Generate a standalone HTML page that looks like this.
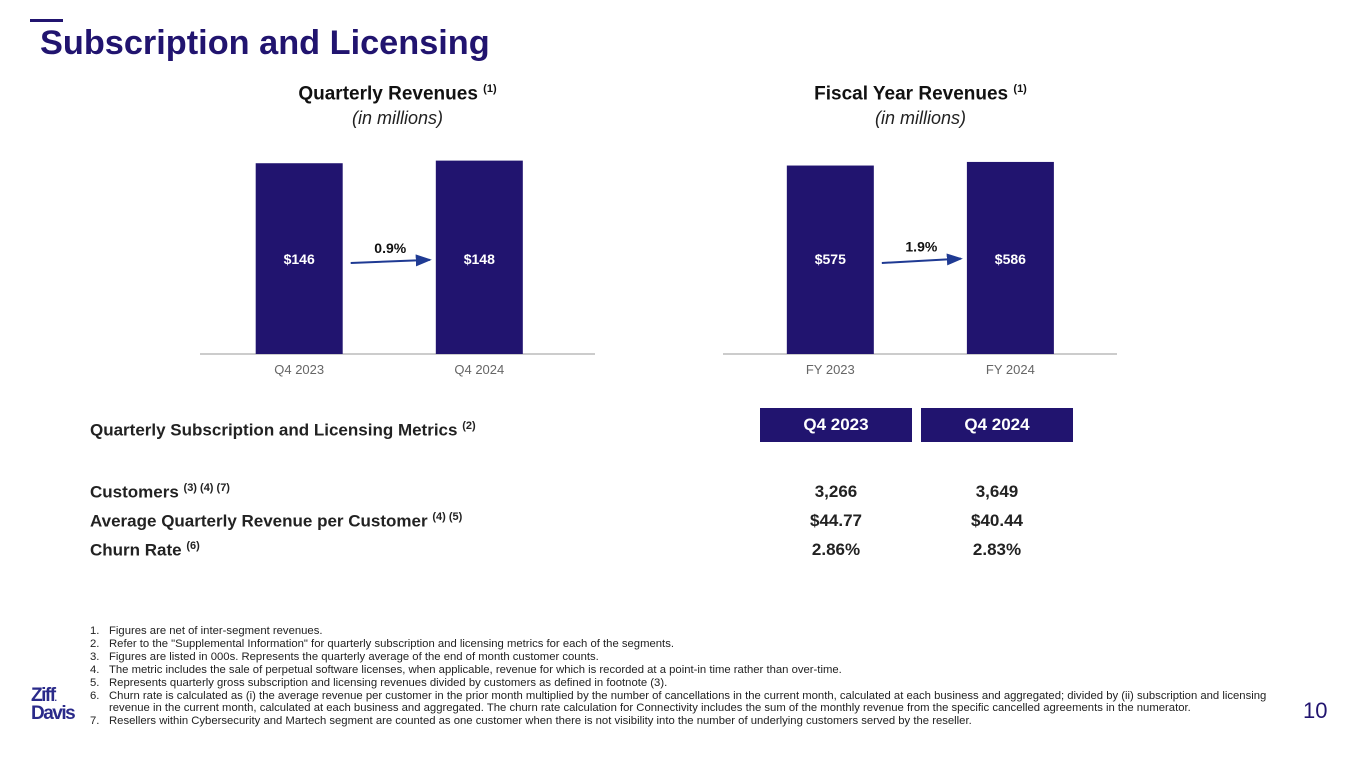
<!DOCTYPE html>
<html><head><meta charset="utf-8"><style>
body{margin:0;width:1365px;height:770px;background:#fff;position:relative;overflow:hidden;font-family:"Liberation Sans",Arial,sans-serif;}
.a{position:absolute;white-space:nowrap;}
.hdr{position:absolute;background:#21146f;color:#fff;font-weight:bold;font-size:17px;text-align:center;line-height:34px;}
.row{position:absolute;font-weight:bold;font-size:17px;color:#222;}
.fn{position:absolute;left:90px;font-size:11.3px;color:#222;line-height:12.9px;}
.fn div{position:relative;padding-left:19px;}
.fn span{position:absolute;left:0;}
sup{font-size:11px;}
</style></head><body>
<div class="a" style="left:30px;top:19px;width:33px;height:3px;background:#21146f"></div>
<div class="a" style="left:40px;top:24px;font-size:34.3px;font-weight:bold;color:#21146f">Subscription and Licensing</div>
<div class="a" style="left:200px;width:395px;top:83px;text-align:center;font-size:19px;font-weight:bold;color:#111">Quarterly Revenues <sup>(1)</sup></div>
<div class="a" style="left:200px;width:395px;top:108px;text-align:center;font-size:18px;font-style:italic;color:#222">(in millions)</div>
<div class="a" style="left:723px;width:395px;top:83px;text-align:center;font-size:19px;font-weight:bold;color:#111">Fiscal Year Revenues <sup>(1)</sup></div>
<div class="a" style="left:723px;width:395px;top:108px;text-align:center;font-size:18px;font-style:italic;color:#222">(in millions)</div>
<svg id="charts" class="a" style="left:0;top:0" width="1365" height="400">
<defs><marker id="ah" markerWidth="8" markerHeight="6" refX="7" refY="3" orient="auto"><path d="M0,0L8,3L0,6z" fill="#1f3a93"/></marker></defs>
</svg>
<div class="hdr" style="left:760px;top:408px;width:152px;height:34px">Q4 2023</div>
<div class="hdr" style="left:921px;top:408px;width:152px;height:34px">Q4 2024</div>
<div class="row" style="left:90px;top:420px">Quarterly Subscription and Licensing Metrics <sup>(2)</sup></div>
<div class="row" style="left:90px;top:482px">Customers <sup>(3) (4) (7)</sup></div>
<div class="row" style="left:90px;top:511px">Average Quarterly Revenue per Customer <sup>(4) (5)</sup></div>
<div class="row" style="left:90px;top:540px">Churn Rate <sup>(6)</sup></div>
<div class="row" style="left:760px;width:152px;text-align:center;top:482px">3,266</div>
<div class="row" style="left:921px;width:152px;text-align:center;top:482px">3,649</div>
<div class="row" style="left:760px;width:152px;text-align:center;top:511px">$44.77</div>
<div class="row" style="left:921px;width:152px;text-align:center;top:511px">$40.44</div>
<div class="row" style="left:760px;width:152px;text-align:center;top:540px">2.86%</div>
<div class="row" style="left:921px;width:152px;text-align:center;top:540px">2.83%</div>
<div class="fn" style="top:625px;width:1220px">
<div><span>1.</span>Figures are net of inter-segment revenues.</div>
<div><span>2.</span>Refer to the "Supplemental Information" for quarterly subscription and licensing metrics for each of the segments.</div>
<div><span>3.</span>Figures are listed in 000s. Represents the quarterly average of the end of month customer counts.</div>
<div><span>4.</span>The metric includes the sale of perpetual software licenses, when applicable, revenue for which is recorded at a point-in time rather than over-time.</div>
<div><span>5.</span>Represents quarterly gross subscription and licensing revenues divided by customers as defined in footnote (3).</div>
<div><span>6.</span>Churn rate is calculated as (i) the average revenue per customer in the prior month multiplied by the number of cancellations in the current month, calculated at each business and aggregated; divided by (ii) subscription and licensing<br>revenue in the current month, calculated at each business and aggregated. The churn rate calculation for Connectivity includes the sum of the monthly revenue from the specific cancelled agreements in the numerator.</div>
<div><span>7.</span>Resellers within Cybersecurity and Martech segment are counted as one customer when there is not visibility into the number of underlying customers served by the reseller.</div>
</div>
<div class="a" style="left:31px;top:688px;font-size:19px;font-weight:bold;color:#2a2a8a;line-height:15px;letter-spacing:-1.5px">Ziff<span style="font-size:9px">.</span><br>Davis</div>
<div class="a" style="left:1303px;top:698px;font-size:22px;color:#21146f">10</div>
<script>
const qCats=["Q4 2023","Q4 2024"];
const qVals=[146,148];
const qLabels=["$146","$148"];
const qGrowth="0.9%";
const fyCats=["FY 2023","FY 2024"];
const fyVals=[575,586];
const fyLabels=["$575","$586"];
const fyGrowth="1.9%";
const svg=document.getElementById('charts');
const NS="http://www.w3.org/2000/svg";
function mk(t,a){const e=document.createElementNS(NS,t);for(const k in a)e.setAttribute(k,a[k]);svg.appendChild(e);return e;}
function chart(prefix,x0,x1,f0,f1,cats,vals,labels,growth,maxV){
  const base=354,plotH=196;
  const y=v=>base-v/maxV*plotH;
  const bw=87,w=x1-x0,xs=[x0+w*f0,x0+w*f1];
  const ax=mk('line',{x1:x0,x2:x1,y1:base,y2:base,stroke:'#999','stroke-width':1});
  
  
  const tops=[];
  vals.forEach((v,i)=>{
    const r=mk('rect',{x:xs[i],y:y(v),width:bw,height:base-y(v),fill:'#21146f'});
    
    
    tops.push(y(v));
    const t=mk('text',{x:xs[i]+bw/2,y:264,'text-anchor':'middle',fill:'#fff','font-size':14,'font-weight':'bold','font-family':'Liberation Sans, sans-serif'});
    t.textContent=labels[i];
    
    
    const c=mk('text',{x:xs[i]+bw/2,y:374,'text-anchor':'middle',fill:'#666','font-size':13,'font-family':'Liberation Sans, sans-serif'});
    c.textContent=cats[i];
    
    
  });
  const ax1=xs[0]+bw+8,ax2=xs[1]-6,dy=(tops[1]-tops[0])*1.2;
  const ar=mk('line',{x1:ax1,y1:263,x2:ax2,y2:263+dy,stroke:'#1f3a93','stroke-width':2,'marker-end':'url(#ah)'});
  
  
  const g=mk('text',{x:(ax1+ax2)/2,y:256+dy,'text-anchor':'middle',fill:'#111','font-size':14,'font-weight':'bold','font-family':'Liberation Sans, sans-serif'});
  g.textContent=growth;
  
  
}
chart('quarterly',200,595,0.141,0.597,qCats,qVals,qLabels,qGrowth,150);
chart('fiscal-year',723,1117,0.162,0.619,fyCats,fyVals,fyLabels,fyGrowth,598);
</script>
</body></html>
